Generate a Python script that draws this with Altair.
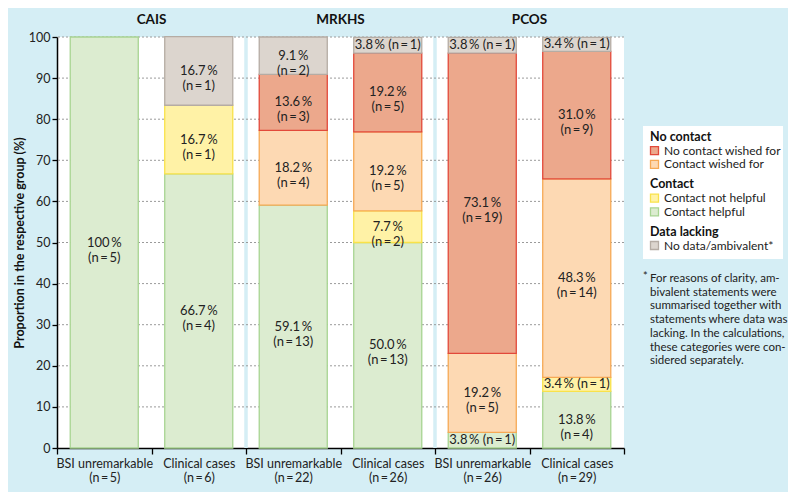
import altair as alt
import pandas as pd

# ---------------- data ----------------
groups = ["CAIS", "MRKHS", "PCOS"]
bar_group = ["CAIS", "CAIS", "MRKHS", "MRKHS", "PCOS", "PCOS"]
bar_kind = ["BSI unremarkable", "Clinical cases"] * 3
bar_total = [5, 6, 22, 26, 26, 29]

categories = ["Contact helpful", "Contact not helpful", "Contact wished for",
              "No contact wished for", "No data/ambivalent*"]

pct_helpful = [100.0, 66.7, 59.1, 50.0, 3.8, 13.8]
n_helpful = [5, 4, 13, 13, 1, 4]
pct_not_helpful = [0, 16.7, 0, 7.7, 0, 3.4]
n_not_helpful = [0, 1, 0, 2, 0, 1]
pct_wished = [0, 0, 18.2, 19.2, 19.2, 48.3]
n_wished = [0, 0, 4, 5, 5, 14]
pct_no_contact = [0, 0, 13.6, 19.2, 73.1, 31.0]
n_no_contact = [0, 0, 3, 5, 19, 9]
pct_no_data = [0, 16.7, 9.1, 3.8, 3.8, 3.4]
n_no_data = [0, 1, 2, 1, 1, 1]

fill_colors = ["#dcecd0", "#fff2a6", "#fdd9b3", "#eca88c", "#dcd5ce"]
stroke_colors = ["#a8d492", "#f9e24a", "#f6a955", "#e2493a", "#b5aca4"]

legend_headings = ["No contact", "Contact", "Data lacking"]
legend_blocks = [["No contact wished for", "Contact wished for"],
                 ["Contact not helpful", "Contact helpful"],
                 ["No data/ambivalent*"]]
footnote_lines = ["For reasons of clarity, am-", "bivalent statements were",
                  "summarised together with", "statements where data was",
                  "lacking. In the calculations,", "these categories were con-",
                  "sidered separately."]

y_ticks = [0, 10, 20, 30, 40, 50, 60, 70, 80, 90, 100]

# ---------------- tables ----------------
TS = "\u2009"
bar_keys = [f"{k}|(n{TS}={TS}{n})" for k, n in zip(bar_kind, bar_total)]
pcts = [pct_helpful, pct_not_helpful, pct_wished, pct_no_contact, pct_no_data]
ns = [n_helpful, n_not_helpful, n_wished, n_no_contact, n_no_data]

rows = []
for b, key in enumerate(bar_keys):
    for c, cat in enumerate(categories):
        p = pcts[c][b]
        n = ns[c][b]
        if p <= 0:
            continue
        ps = f"100{TS}%" if p == 100 else f"{p:.1f}{TS}%"
        nstr = f"(n{TS}={TS}{n})"
        label = f"{ps} {nstr}" if p < 5 else f"{ps}\n{nstr}"
        rows.append({"bar": key, "cat": cat, "order": c, "pct": p, "label": label})
df = pd.DataFrame(rows)

grid_df = pd.DataFrame({"v": y_ticks[1:]})
sep_df = pd.DataFrame({"bar": [bar_keys[2], bar_keys[4]]})
title_df = pd.DataFrame({"group": groups, "bar": [bar_keys[1], bar_keys[3], bar_keys[5]]})

BG = "#d5eef5"
FONT = "Lato"
W, H = 567, 411
HALF_BAND = W / len(bar_keys) / 2

xscale = alt.Scale(domain=bar_keys, paddingInner=0, paddingOuter=0)
yscale = alt.Scale(domain=[0, 100], nice=False)

x_axis = alt.Axis(title=None,
                  labelExpr="isValid(datum.value) ? split(datum.value, '|') : ''",
                  tickBand="extent",
                  tickSize=6, tickColor="black", domainColor="black", domainWidth=1.5,
                  tickWidth=1.3, labelPadding=3, labelFontSize=12.5, labelLineHeight=14.5,
                  labelAngle=0, labelColor="#222", grid=False)
y_axis = alt.Axis(values=y_ticks, grid=False, domainColor="black", domainWidth=1.5,
                  tickColor="black", tickSize=5, tickWidth=1.3, labelPadding=2,
                  labelFontSize=12.5, labelColor="#222",
                  title="Proportion in the respective group (%)", titleFontWeight="bold",
                  titleFontSize=12.5, titlePadding=2, titleColor="#111")

X = alt.X("bar:N", scale=xscale, axis=x_axis)

sep = alt.Chart(sep_df).mark_rule(strokeWidth=3.5, color=BG, xOffset=-HALF_BAND).encode(
    x=X, y=alt.value(0), y2=alt.value(H))

grid = alt.Chart(grid_df).mark_rule(strokeDash=[2, 2], color="#9a9a9a", strokeWidth=1).encode(
    y=alt.Y("v:Q", scale=yscale, axis=y_axis))

stacked = alt.Chart(df).transform_stack(
    stack="pct", groupby=["bar"], sort=[alt.SortField("order", "ascending")],
    as_=["y0", "y1"])

bars = stacked.mark_bar(width=alt.RelativeBandSize(0.72), strokeWidth=1.3).encode(
    x=X,
    y=alt.Y("y0:Q", scale=yscale, axis=y_axis),
    y2="y1:Q",
    fill=alt.Fill("cat:N", scale=alt.Scale(domain=categories, range=fill_colors), legend=None),
    stroke=alt.Stroke("cat:N", scale=alt.Scale(domain=categories, range=stroke_colors), legend=None))

texts = stacked.transform_calculate(mid="(datum.y0 + datum.y1) / 2").mark_text(
    lineBreak="\n", fontSize=13, color="#222", font=FONT, lineHeight=15).encode(
    x=X,
    y=alt.Y("mid:Q", scale=yscale, axis=y_axis),
    text="label:N")

titles = alt.Chart(title_df).mark_text(fontSize=13.5, fontWeight="bold", color="#111",
                                       font=FONT, dx=-HALF_BAND).encode(
    x=X, y=alt.value(-17), text="group:N")

main = alt.layer(sep, grid, bars, texts, titles).properties(
    width=W, height=H, view=alt.ViewBackground(fill="white", stroke=None))

# ---------------- legend panel ----------------
LW = 151
leg_rows = []
y = 100.0
for hi, head in enumerate(legend_headings):
    leg_rows.append({"kind": "head", "text": head, "y": y, "fill": "", "stroke": ""})
    for item in legend_blocks[hi]:
        y += 13.7
        c = categories.index(item)
        leg_rows.append({"kind": "item", "text": item, "y": y,
                         "fill": fill_colors[c], "stroke": stroke_colors[c]})
    y += 20
leg_df = pd.DataFrame(leg_rows)
foot_df = pd.DataFrame({"text": footnote_lines,
                        "y": [242 + 13.7 * i for i in range(len(footnote_lines))]})
box_df = pd.DataFrame({"x": [10], "x2": [150], "y": [89], "y2": [222]})

lx = alt.Scale(domain=[0, LW])
ly = alt.Scale(domain=[0, H], reverse=True)

box = alt.Chart(box_df).mark_rect(color="white").encode(
    x=alt.X("x:Q", scale=lx, axis=None), x2="x2:Q",
    y=alt.Y("y:Q", scale=ly, axis=None), y2="y2:Q")

heads = alt.Chart(leg_df).transform_filter("datum.kind == 'head'").mark_text(
    align="left", baseline="middle", fontSize=12.5, fontWeight="bold", color="#111",
    font=FONT).encode(
    x=alt.value(17), y=alt.Y("y:Q", scale=ly, axis=None), text="text:N")

swatches = alt.Chart(leg_df).transform_filter("datum.kind == 'item'").mark_square(
    size=64, opacity=1, strokeWidth=1.3).encode(
    x=alt.value(21.5), y=alt.Y("y:Q", scale=ly, axis=None),
    fill=alt.Fill("fill:N", scale=None), stroke=alt.Stroke("stroke:N", scale=None))

items = alt.Chart(leg_df).transform_filter("datum.kind == 'item'").mark_text(
    align="left", baseline="middle", fontSize=12, color="#222", font=FONT).encode(
    x=alt.value(31), y=alt.Y("y:Q", scale=ly, axis=None), text="text:N")

foot = alt.Chart(foot_df).mark_text(
    align="left", baseline="middle", fontSize=11.5, color="#222", font=FONT).encode(
    x=alt.value(17), y=alt.Y("y:Q", scale=ly, axis=None), text="text:N")

star = alt.Chart(foot_df.head(1)).mark_text(
    align="left", baseline="middle", fontSize=11, color="#222", font=FONT, dy=-2).encode(
    x=alt.value(10), y=alt.Y("y:Q", scale=ly, axis=None), text=alt.value("*"))

legend_panel = alt.layer(box, heads, swatches, items, foot, star).properties(
    width=LW, height=H, view=alt.ViewBackground(fill=None, stroke=None))

chart = alt.hconcat(main, legend_panel, spacing=8).resolve_scale(
    x="independent", y="independent").properties(
    padding={"left": 5, "top": 5, "right": 0, "bottom": 8}).configure(
    background=BG, font=FONT).configure_view(stroke=None)

chart.save("out.html", embed_options={"renderer": "svg", "actions": False})
